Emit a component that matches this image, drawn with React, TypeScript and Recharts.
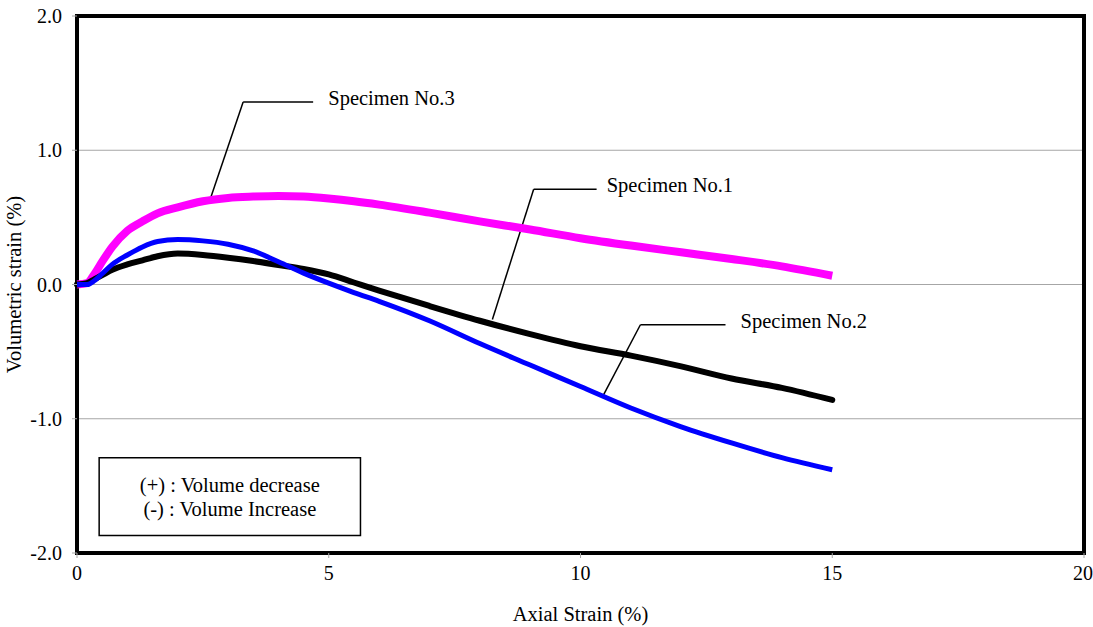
import React from "react";
import {
  LineChart,
  Line,
  XAxis,
  YAxis,
  CartesianGrid,
  ReferenceArea,
  ReferenceLine,
  ReferenceDot,
} from "recharts";

// Axial strain (%) sample points
const axialStrain = [0, 0.2, 0.35, 0.5, 0.7, 1.0, 1.3, 1.6, 2.0, 2.5, 3.0, 3.5, 4.0, 4.5, 5.0, 5.5, 6.0, 7.0, 8.0, 9.0, 10, 11, 12, 13, 14, 15];
// Volumetric strain (%) per specimen
const specimen1 = [0, 0.01, 0.04, 0.07, 0.11, 0.15, 0.18, 0.21, 0.23, 0.22, 0.2, 0.175, 0.145, 0.115, 0.075, 0.015, -0.045, -0.16, -0.27, -0.37, -0.46, -0.53, -0.61, -0.7, -0.77, -0.86];
const specimen2 = [0, 0.0, 0.03, 0.08, 0.15, 0.22, 0.28, 0.32, 0.335, 0.325, 0.3, 0.25, 0.17, 0.085, 0.01, -0.06, -0.125, -0.27, -0.44, -0.6, -0.76, -0.92, -1.06, -1.18, -1.29, -1.38];
const specimen3 = [0, 0.01, 0.08, 0.17, 0.28, 0.4, 0.47, 0.53, 0.575, 0.62, 0.645, 0.655, 0.66, 0.655, 0.64, 0.62, 0.595, 0.535, 0.47, 0.41, 0.345, 0.29, 0.24, 0.19, 0.135, 0.065];

const xTicks = [0, 5, 10, 15, 20];
const yTicks = [-2, -1, 0, 1, 2];

const seriesNames = ["Specimen No.1", "Specimen No.2", "Specimen No.3"];
const leaders = [
  { name: seriesNames[0], kneeX: 9.07, kneeY: 0.71, endX: 10.32, curveX: 8.25, curveY: -0.26, textX: 10.52 },
  { name: seriesNames[1], kneeX: 11.19, kneeY: -0.3, endX: 12.88, curveX: 10.46, curveY: -0.82, textX: 13.18 },
  { name: seriesNames[2], kneeX: 3.3, kneeY: 1.36, endX: 4.69, curveX: 2.64, curveY: 0.63, textX: 4.99 },
];
const noteLines = ["(+) : Volume decrease", "(-) : Volume Increase"];

const data = axialStrain.map((x, i) => ({
  x,
  s1: specimen1[i],
  s2: specimen2[i],
  s3: specimen3[i],
}));

const FONT = "'Liberation Serif', 'Times New Roman', serif";
const FS = 20.5;

export default function App() {
  return (
    <div style={{ position: "absolute", left: 0, top: 0, background: "#fff" }}>
      <LineChart
        width={1093}
        height={627}
        data={data}
        margin={{ top: 16, right: 9, bottom: 0, left: 0 }}
      >
        <CartesianGrid vertical={false} stroke="#a6a6a6" strokeWidth={1} />
        <XAxis
          type="number"
          dataKey="x"
          domain={[0, 20]}
          ticks={xTicks}
          height={74}
          axisLine={false}
          tickLine={{ stroke: "#a6a6a6" }}
          tickSize={5}
          tickMargin={8}
          tick={{ fill: "#000", fontFamily: FONT, fontSize: 20 }}
          label={{
            value: "Axial Strain (%)",
            position: "insideBottom",
            offset: 6,
            fill: "#000",
            fontFamily: FONT,
            fontSize: FS,
          }}
        />
        <YAxis
          type="number"
          domain={[-2, 2]}
          ticks={yTicks}
          width={77}
          axisLine={false}
          tickLine={{ stroke: "#a6a6a6" }}
          tickSize={5}
          tickMargin={10}
          tickFormatter={(v: number) => v.toFixed(1)}
          tick={{ fill: "#000", fontFamily: FONT, fontSize: 20 }}
          label={{
            value: "Volumetric strain (%)",
            angle: -90,
            position: "insideLeft",
            offset: 14,
            style: { textAnchor: "middle" },
            fill: "#000",
            fontFamily: FONT,
            fontSize: FS,
          }}
        />
        <ReferenceArea
          x1={0}
          x2={20}
          y1={-2}
          y2={2}
          fill="none"
          fillOpacity={0}
          stroke="#000"
          strokeWidth={4}
          ifOverflow="visible"
        />
        <ReferenceArea
          x1={0.44}
          x2={5.63}
          y1={-1.29}
          y2={-1.87}
          fill="#fff"
          fillOpacity={1}
          stroke="#000"
          strokeWidth={1.5}
          label={(props: any) => {
            const vb = props.viewBox || {};
            const cx = vb.x + vb.width / 2;
            const cy = vb.y + vb.height / 2;
            return (
              <g>
                {noteLines.map((t, i) => (
                  <text
                    key={i}
                    x={cx}
                    y={cy + (i - 0.5) * 24}
                    textAnchor="middle"
                    dominantBaseline="central"
                    fontFamily={FONT}
                    fontSize={FS}
                    fill="#000"
                  >
                    {t}
                  </text>
                ))}
              </g>
            );
          }}
        />
        {leaders.map((l) => (
          <ReferenceLine
            key={l.name + "h"}
            segment={[
              { x: l.kneeX, y: l.kneeY },
              { x: l.endX, y: l.kneeY },
            ]}
            stroke="#000"
            strokeWidth={1.5}
          />
        ))}
        {leaders.map((l) => (
          <ReferenceLine
            key={l.name + "d"}
            segment={[
              { x: l.kneeX, y: l.kneeY },
              { x: l.curveX, y: l.curveY },
            ]}
            stroke="#000"
            strokeWidth={1.5}
          />
        ))}
        {leaders.map((l) => (
          <ReferenceDot
            key={l.name + "t"}
            x={l.textX}
            y={l.kneeY}
            r={0}
            fill="none"
            stroke="none"
            label={(props: any) => {
              const vb = props.viewBox || {};
              const x = vb.x + (vb.width || 0) / 2;
              const y = vb.y + (vb.height || 0) / 2;
              return (
                <text
                  x={x}
                  y={y - 4}
                  textAnchor="start"
                  dominantBaseline="central"
                  fontFamily={FONT}
                  fontSize={FS}
                  fill="#000"
                >
                  {l.name}
                </text>
              );
            }}
          />
        ))}
        <Line
          dataKey="s3"
          stroke="#ff00ff"
          strokeWidth={8}
          dot={false}
          type="monotone"
          isAnimationActive={false}
          strokeLinecap="butt"
        />
        <Line
          dataKey="s1"
          stroke="#000000"
          strokeWidth={6}
          dot={false}
          type="monotone"
          isAnimationActive={false}
          strokeLinecap="round"
        />
        <Line
          dataKey="s2"
          stroke="#0000ff"
          strokeWidth={5}
          dot={false}
          type="monotone"
          isAnimationActive={false}
          strokeLinecap="butt"
        />
      </LineChart>
    </div>
  );
}
